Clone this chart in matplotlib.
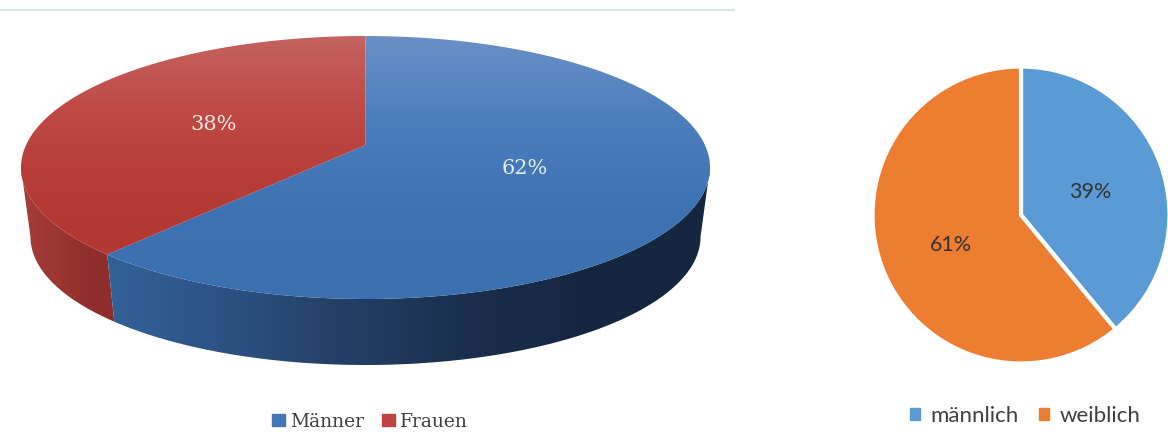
#!/usr/bin/env python3
import numpy as np
import matplotlib as mp
from matplotlib import pyplot as plt
from matplotlib.patches import Polygon, Patch

mp.use('Agg')

W, H = 1168, 432

left_labels = ['Männer', 'Frauen']
left_values = [62, 38]
right_labels = ['männlich', 'weiblich']
right_values = [39, 61]

# geometry of the tilted pie, in pixels
TOP_CX, TOP_CY, TOP_RX, TOP_RY = 365.5, 167.5, 344.5, 131.5
BOT_CX, BOT_CY, BOT_RX, BOT_RY = 365.5, 237.0, 335.0, 128.0
APEX_Y = 145
PERSP = 0.13


def py(y):
    return H - y


def disk(theta):
    # theta is clockwise from the top; perspective squeezes the far side
    x, y = np.sin(theta), np.cos(theta)
    d = 1 + PERSP * y
    return x * np.sqrt(1 - PERSP**2) / d, (y + PERSP) / d


def on_top(theta):
    x, y = disk(theta)
    return TOP_CX + TOP_RX * x, py(TOP_CY) + TOP_RY * y


def on_bot(theta):
    x, y = disk(theta)
    return BOT_CX + BOT_RX * x, py(BOT_CY) + BOT_RY * y


def rim(a, b, fn, n=300):
    x, y = fn(np.linspace(a, b, n))
    return np.column_stack([x, y])


def gradient(ax, patch, colors, extent, vertical=True):
    cmap = mp.colors.LinearSegmentedColormap.from_list('g', colors)
    z = np.linspace(0, 1, 256)
    z = z[:, None] if vertical else z[None, :]
    im = ax.imshow(z, cmap=cmap, extent=extent, origin='upper',
                   aspect='auto', interpolation='bilinear', zorder=2)
    ax.add_patch(patch)
    patch.set(facecolor='none', edgecolor='none')
    im.set_clip_path(patch)


fig = plt.figure(figsize=(W / 100, H / 100), dpi=100)
ax = fig.add_axes([0, 0, 1, 1])

# right pie
ax.pie(right_values, colors=['#5b9bd5', '#ed7d31'], startangle=90,
       counterclock=False, center=(1021, py(215)), radius=148.5,
       wedgeprops={'edgecolor': 'white', 'linewidth': 3}, frame=True)
ax.set_aspect('auto')
ax.set_xlim(0, W)
ax.set_ylim(0, H)
ax.axis('off')

ax.plot([0, 734], [py(10), py(10)], color='#d5e3f3', lw=1.4, zorder=1)

# tilted pie, walls first
split = 2 * np.pi * left_values[0] / sum(left_values)
side = np.arccos(-PERSP)  # where the rim reaches its widest point

blue_wall = np.vstack([rim(side, split, on_top),
                       rim(split, side, on_bot)])
red_wall = np.vstack([rim(split, 2 * np.pi - side, on_top),
                      rim(2 * np.pi - side, split, on_bot)])
gradient(ax, Polygon(red_wall, closed=True),
         ['#a63d38', '#9c3632', '#8e2e2b', '#8e2e2b'],
         [20, 130, py(330), py(160)], vertical=False)
gradient(ax, Polygon(blue_wall, closed=True),
         ['#33639b', '#2c5384', '#243f66', '#1a2f4e', '#15263f', '#15263f'],
         [95, 712, py(370), py(160)], vertical=False)

apex = (TOP_CX, py(APEX_Y))
blue_top = np.vstack([[apex], rim(0, split, on_top)])
red_top = np.vstack([[apex], rim(split, 2 * np.pi, on_top)])
gradient(ax, Polygon(blue_top, closed=True),
         ['#6a90c6', '#4a7dbc', '#3d72b3', '#3a6fb0'],
         [0, 720, py(300), py(36)])
gradient(ax, Polygon(red_top, closed=True),
         ['#c4635f', '#bf4a46', '#b63c38', '#b23733'],
         [0, 720, py(255), py(36)])

ax.text(525, py(168), f'{left_values[0]}%', color='#e6edf6', family='DejaVu Serif',
        fontsize=15, ha='center', va='center', zorder=5)
ax.text(214, py(124), f'{left_values[1]}%', color='#f6e6e4', family='DejaVu Serif',
        fontsize=15, ha='center', va='center', zorder=5)
ax.text(1090, py(192), f'{right_values[0]}%', color='#333333', family='Lato',
        fontsize=15.5, ha='center', va='center', zorder=5)
ax.text(951, py(245), f'{right_values[1]}%', color='#333333', family='Lato',
        fontsize=15.5, ha='center', va='center', zorder=5)

# legends
left_handles = [Patch(color='#4477b5', label=left_labels[0]),
                Patch(color='#bf4340', label=left_labels[1])]
leg1 = ax.legend(handles=left_handles, ncol=2, frameon=False,
                 loc='center', bbox_to_anchor=(370 / W, py(422) / H),
                 prop={'family': 'DejaVu Serif', 'size': 13.5},
                 labelcolor='#404040', handlelength=0.67, handleheight=0.6,
                 handletextpad=0.3, columnspacing=0.95, borderpad=0)
ax.add_artist(leg1)

right_handles = [Patch(color='#5b9bd5', label=right_labels[0]),
                 Patch(color='#ed7d31', label=right_labels[1])]
ax.legend(handles=right_handles, ncol=2, frameon=False,
          loc='center', bbox_to_anchor=(1025 / W, py(416) / H),
          prop={'family': 'Lato', 'size': 16}, labelcolor='#404040',
          handlelength=0.46, handleheight=0.46,
          handletextpad=0.45, columnspacing=0.95, borderpad=0)

fig.savefig('out.png', dpi=100)
